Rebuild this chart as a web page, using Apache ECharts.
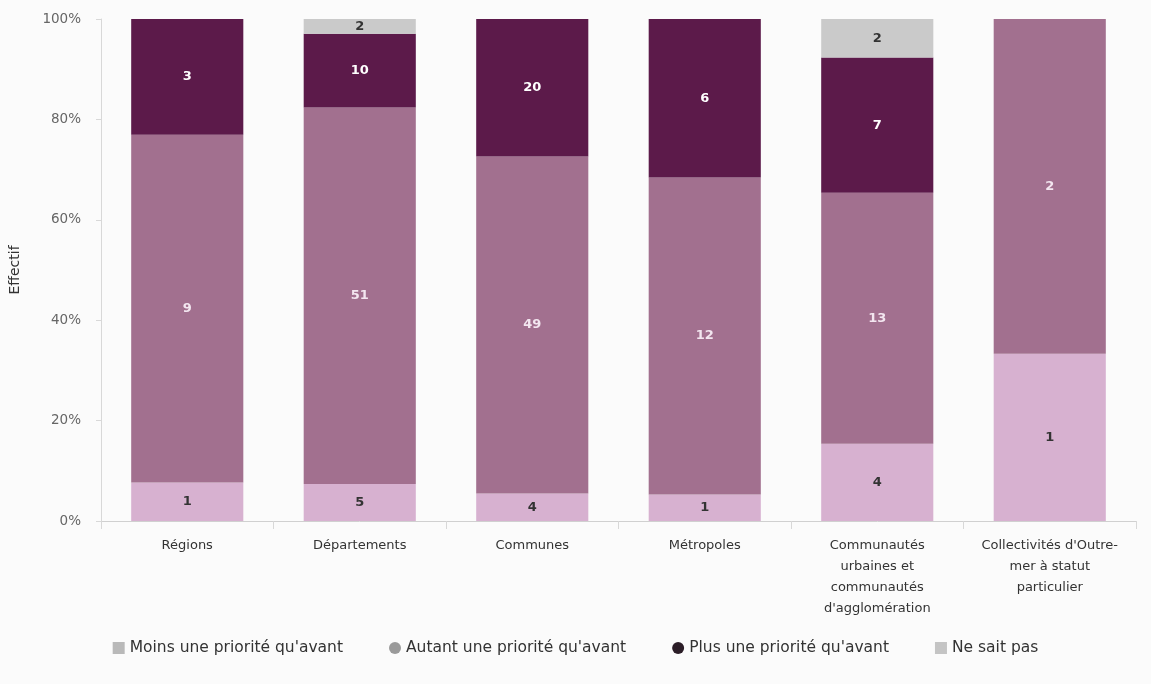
<!DOCTYPE html>
<html>
<head>
<meta charset="utf-8">
<script src="https://cdn.jsdelivr.net/npm/echarts@6/dist/echarts.min.js"></script>
<style>
  html, body { margin: 0; padding: 0; background: #fbfbfb; }
  #chart { width: 1151px; height: 684px; }
</style>
</head>
<body>
<div id="chart"></div>
<script>
// Types de collectivités (libellés de l'axe horizontal)
const categories = [
  'Régions',
  'Départements',
  'Communes',
  'Métropoles',
  'Communautés\nurbaines et\ncommunautés\nd\'agglomération',
  'Collectivités d\'Outre-\nmer à statut\nparticulier'
];

// Effectifs par réponse
const moins  = [1, 5, 4, 1, 4, 1];
const autant = [9, 51, 49, 12, 13, 2];
const plus   = [3, 10, 20, 6, 7, 0];
const nsp    = [0, 2, 0, 0, 2, 0];

const yTicks = ['0%', '20%', '40%', '60%', '80%', '100%'];

const totals = categories.map((_, i) => moins[i] + autant[i] + plus[i] + nsp[i]);

// Part de chaque réponse dans la colonne, en %, l'effectif restant porté par l'étiquette
function toShare(arr) {
  return arr.map((v, i) => v > 0 ? { value: v / totals[i] * 100, count: v } : null);
}

const FONT = '"DejaVu Sans", "Liberation Sans", sans-serif';

function seg(name, arr, color, labelColor) {
  return {
    name: name,
    type: 'bar',
    stack: 'total',
    barCategoryGap: '35%',
    data: toShare(arr),
    itemStyle: { color: color },
    label: {
      show: true,
      position: 'inside',
      color: labelColor,
      fontSize: 13,
      fontWeight: 'bold',
      fontFamily: FONT,
      formatter: p => p.data ? String(p.data.count) : ''
    },
    emphasis: { disabled: true }
  };
}

const chart = echarts.init(document.getElementById('chart'));
chart.setOption({
  backgroundColor: '#fbfbfb',
  animation: false,
  textStyle: { fontFamily: FONT },
  grid: { left: 100, right: 15, top: 19, bottom: 163 },
  legend: {
    bottom: 23,
    left: 'center',
    itemGap: 46,
    itemWidth: 12,
    itemHeight: 12,
    textStyle: { fontSize: 15.5, color: '#333', fontFamily: FONT },
    data: [
      { name: 'Moins une priorité qu\'avant', icon: 'rect', itemStyle: { color: '#b9b9b9' } },
      { name: 'Autant une priorité qu\'avant', icon: 'circle', itemStyle: { color: '#9a9a9a' } },
      { name: 'Plus une priorité qu\'avant', icon: 'circle', itemStyle: { color: '#2b1d27' } },
      { name: 'Ne sait pas', icon: 'rect', itemStyle: { color: '#c4c4c4' } }
    ]
  },
  xAxis: {
    type: 'category',
    data: categories,
    axisLine: { show: true, lineStyle: { color: '#d0d0d0' } },
    axisTick: { show: true, length: 8, lineStyle: { color: '#d8d8d8' } },
    axisLabel: {
      color: '#333',
      fontSize: 13,
      fontFamily: FONT,
      lineHeight: 21,
      margin: 14,
      interval: 0
    }
  },
  yAxis: {
    type: 'value',
    min: 0,
    max: 100,
    interval: 20,
    name: 'Effectif',
    nameLocation: 'middle',
    nameGap: 79,
    nameTextStyle: { color: '#333', fontSize: 14, fontFamily: FONT },
    axisLine: { show: true, lineStyle: { color: '#d8d8d8' } },
    axisTick: { show: true, length: 5, lineStyle: { color: '#d8d8d8' } },
    splitLine: { show: false },
    axisLabel: {
      color: '#666',
      fontSize: 13.5,
      fontFamily: FONT,
      margin: 20,
      formatter: v => yTicks[Math.round(v / 20)]
    }
  },
  series: [
    seg('Moins une priorité qu\'avant', moins, '#d7b1d0', '#333'),
    seg('Autant une priorité qu\'avant', autant, '#a2708f', '#f3e6f0'),
    seg('Plus une priorité qu\'avant', plus, '#5c1a4a', '#ffffff'),
    seg('Ne sait pas', nsp, '#cacaca', '#333')
  ]
});
</script>
</body>
</html>
